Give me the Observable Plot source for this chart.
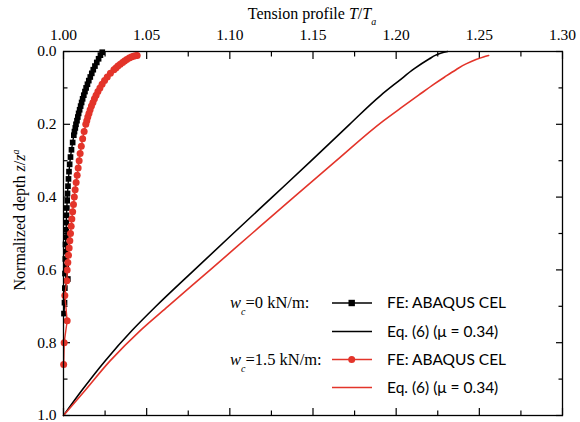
<!DOCTYPE html>
<html>
<head>
<meta charset="utf-8">
<script src="https://cdn.jsdelivr.net/npm/d3@7"></script>
<script src="https://cdn.jsdelivr.net/npm/@observablehq/plot@0.6"></script>
<style>
  body { margin: 0; background: #fff; }
</style>
</head>
<body>
<div id="chart"></div>
<script>
// Tension profile along the anchor chain, normalized by padeye tension T_a,
// against normalized depth z/z_a.

// w_c = 0 kN/m — FE (ABAQUS CEL)
const feDepth0 = [0.002, 0.01, 0.02, 0.03, 0.04, 0.05, 0.06, 0.07, 0.08, 0.09, 0.10, 0.11, 0.12,
  0.13, 0.14, 0.15, 0.16, 0.17, 0.18, 0.19, 0.20, 0.21, 0.22, 0.23, 0.25, 0.27, 0.29, 0.31, 0.33,
  0.35, 0.37, 0.39, 0.41, 0.43, 0.45, 0.47, 0.49, 0.51, 0.53, 0.55, 0.57, 0.59, 0.61, 0.625, 0.65,
  0.69, 0.72];
const feTension0 = [1.0233, 1.0222, 1.0211, 1.0200, 1.0189, 1.0179, 1.0170, 1.0161, 1.0152, 1.0144,
  1.0136, 1.0129, 1.0122, 1.0115, 1.0109, 1.0103, 1.0097, 1.0091, 1.0086, 1.0081, 1.0075, 1.0071,
  1.0066, 1.0062, 1.0055, 1.0048, 1.0042, 1.0037, 1.0033, 1.0030, 1.0027, 1.0024, 1.0022, 1.0020,
  1.0018, 1.0017, 1.0016, 1.0015, 1.0012, 1.0014, 1.0011, 1.0016, 1.0009, 1.0026, 1.0008,
  1.0006, 1.0003];

// w_c = 0 kN/m — Eq. (6), mu = 0.34
const eqDepth0 = [0, 0.004, 0.01, 0.02, 0.048, 0.08, 0.121, 0.2, 0.3, 0.4, 0.5, 0.6, 0.7, 0.766, 0.85, 0.93, 1.0];
const eqTension0 = [1.2310, 1.2272, 1.2238, 1.2200, 1.2107, 1.2018, 1.1906, 1.1720, 1.1490, 1.1255,
  1.1020, 1.0787, 1.0556, 1.0413, 1.0250, 1.0112, 1.0];

// w_c = 1.5 kN/m — FE (ABAQUS CEL)
const feDepth15 = [0.011, 0.012, 0.013, 0.015, 0.018, 0.022, 0.026, 0.03, 0.035, 0.04, 0.045, 0.05,
  0.06, 0.07, 0.08, 0.09, 0.10, 0.11, 0.12, 0.13, 0.14, 0.15, 0.16, 0.17, 0.18, 0.19, 0.20, 0.22,
  0.24, 0.26, 0.28, 0.30, 0.32, 0.34, 0.36, 0.38, 0.40, 0.42, 0.44, 0.46, 0.48, 0.50, 0.52, 0.54,
  0.56, 0.58, 0.60, 0.63, 0.67, 0.74, 0.80, 0.86];
const feTension15 = [1.0443, 1.0432, 1.0420, 1.0408, 1.0395, 1.0380, 1.0367, 1.0355, 1.0341, 1.0327,
  1.0315, 1.0303, 1.0282, 1.0263, 1.0247, 1.0232, 1.0219, 1.0207, 1.0196, 1.0186, 1.0177, 1.0168,
  1.0160, 1.0153, 1.0146, 1.0140, 1.0134, 1.0124, 1.0115, 1.0107, 1.0100, 1.0094, 1.0088, 1.0082,
  1.0076, 1.0070, 1.0065, 1.0060, 1.0055, 1.0050, 1.0046, 1.0042, 1.0038, 1.0034, 1.0030, 1.0026,
  1.0022, 1.0020, 1.0008, 1.0022, 1.0004, 1.0001];

// w_c = 1.5 kN/m — Eq. (6), mu = 0.34
const eqDepth15 = [0.011, 0.015, 0.022, 0.034, 0.05, 0.07, 0.089, 0.12, 0.153, 0.19, 0.3, 0.4, 0.5,
  0.6, 0.7, 0.766, 0.85, 0.93, 1.0];
const eqTension15 = [1.2556, 1.2525, 1.2480, 1.2420, 1.2360, 1.2292, 1.2230, 1.2135, 1.2035, 1.1925,
  1.1640, 1.1385, 1.1133, 1.0882, 1.0628, 1.0463, 1.0280, 1.0132, 1.0];

// Axis ticks
const xTicks = [1.00, 1.05, 1.10, 1.15, 1.20, 1.25, 1.30];
const xMinorTicks = [1.025, 1.075, 1.125, 1.175, 1.225, 1.275];
const yTicks = [0.0, 0.2, 0.4, 0.6, 0.8, 1.0];
const yMinorTicks = [0.1, 0.3, 0.5, 0.7, 0.9];

const RED = "#e3342a";
const SERIF = "'Liberation Serif', 'Times New Roman', serif";
const SANS = "Lato, 'Liberation Sans', sans-serif";

const rows = (depths, tensions) => depths.map((z, i) => ({z, t: tensions[i]}));
const fe0 = rows(feDepth0, feTension0);
const eq0 = rows(eqDepth0, eqTension0);
const fe15 = rows(feDepth15, feTension15);
const eq15 = rows(eqDepth15, eqTension15);

const major = 7, minor = 4.5;

const chart = Plot.plot({
  width: 580,
  height: 422,
  marginLeft: 63,
  marginRight: 18,
  marginTop: 51,
  marginBottom: 7,
  style: {fontFamily: SERIF, fontSize: "15.5px", color: "#000", background: "#fff"},
  x: {domain: [1.0, 1.3]},
  y: {domain: [0, 1], reverse: true},
  marks: [
    // labelled axes (top, left)
    Plot.axisX(xTicks, {anchor: "top", tickSize: -major, tickPadding: major + 12,
      tickFormat: d3.format(".2f"), label: null, strokeWidth: 1.2}),
    Plot.axisX(xMinorTicks, {anchor: "top", tickSize: -minor, tickFormat: () => "", label: null, strokeWidth: 1.2}),
    Plot.axisY(yTicks, {anchor: "left", tickSize: -major, tickPadding: major + 7,
      tickFormat: d3.format(".1f"), label: null, strokeWidth: 1.2}),
    Plot.axisY(yMinorTicks, {anchor: "left", tickSize: -minor, tickFormat: () => "", label: null, strokeWidth: 1.2}),
    // mirrored ticks (bottom, right)
    Plot.axisX(xTicks, {anchor: "bottom", tickSize: -major, tickFormat: () => "", label: null, strokeWidth: 1.2}),
    Plot.axisX(xMinorTicks, {anchor: "bottom", tickSize: -minor, tickFormat: () => "", label: null, strokeWidth: 1.2}),
    Plot.axisY(yTicks, {anchor: "right", tickSize: -major, tickFormat: () => "", label: null, strokeWidth: 1.2}),
    Plot.axisY(yMinorTicks, {anchor: "right", tickSize: -minor, tickFormat: () => "", label: null, strokeWidth: 1.2}),

    // Eq. (6) curves
    Plot.line(eq0, {x: "t", y: "z", stroke: "#000", strokeWidth: 1.6, curve: "monotone-y"}),
    Plot.line(eq15, {x: "t", y: "z", stroke: RED, strokeWidth: 1.6, curve: "monotone-y"}),

    // FE results
    Plot.line(fe0, {x: "t", y: "z", stroke: "#000", strokeWidth: 1.4}),
    Plot.dot(fe0, {x: "t", y: "z", symbol: "square", r: 3.2, fill: "#000", stroke: null}),
    Plot.line(fe15, {x: "t", y: "z", stroke: RED, strokeWidth: 1.4}),
    Plot.dot(fe15, {x: "t", y: "z", symbol: "circle", r: 3.5, fill: RED, stroke: null}),

    Plot.frame({stroke: "#000", strokeWidth: 1.3})
  ]
});

document.getElementById("chart").append(chart);

// Axis titles and legend
const svg = d3.select(chart);

const title = svg.append("text")
  .attr("x", 312).attr("y", 19)
  .attr("text-anchor", "middle")
  .style("font-family", SERIF).style("font-size", "16px").attr("fill", "#000");
title.append("tspan").text("Tension profile ");
title.append("tspan").style("font-style", "italic").text("T");
title.append("tspan").text("/");
title.append("tspan").style("font-style", "italic").text("T");
title.append("tspan").style("font-style", "italic").style("font-size", "10px").attr("dy", 6).text("a");

const ytitle = svg.append("text")
  .attr("transform", "translate(25,220) rotate(-90)")
  .attr("text-anchor", "middle")
  .style("font-family", SERIF).style("font-size", "16px").attr("fill", "#000");
ytitle.append("tspan").text("Normalized depth ");
ytitle.append("tspan").style("font-style", "italic").text("z");
ytitle.append("tspan").text("/");
ytitle.append("tspan").style("font-style", "italic").text("z");
ytitle.append("tspan").style("font-style", "italic").style("font-size", "10px").attr("dy", -6).text("a");

const legend = svg.append("g").attr("text-anchor", "start");
const entries = [
  {y: 303, color: "#000", symbol: "square", text: "FE: ABAQUS CEL", group: "0"},
  {y: 331.5, color: "#000", symbol: null, text: "Eq. (6) (\u03bc = 0.34)"},
  {y: 359.5, color: RED, symbol: "circle", text: "FE: ABAQUS CEL", group: "1.5"},
  {y: 387.5, color: RED, symbol: null, text: "Eq. (6) (\u03bc = 0.34)"}
];
for (const e of entries) {
  legend.append("line")
    .attr("x1", 332).attr("x2", 372).attr("y1", e.y).attr("y2", e.y)
    .attr("stroke", e.color).attr("stroke-width", 1.6);
  if (e.symbol === "square") {
    legend.append("rect").attr("x", 348.5).attr("y", e.y - 3.2).attr("width", 6.4).attr("height", 6.4).attr("fill", e.color);
  } else if (e.symbol === "circle") {
    legend.append("circle").attr("cx", 351.7).attr("cy", e.y).attr("r", 3.5).attr("fill", e.color);
  }
  legend.append("text")
    .attr("x", 387).attr("y", e.y).attr("dy", "0.35em")
    .attr("text-anchor", "start")
    .style("font-family", SANS).style("font-size", "15.5px").attr("fill", "#000")
    .text(e.text);
  if (e.group) {
    const g = legend.append("text")
      .attr("x", 230).attr("y", e.y).attr("dy", "0.32em")
      .attr("text-anchor", "start")
      .style("font-family", SERIF).style("font-size", "16.5px").attr("fill", "#000");
    g.append("tspan").style("font-style", "italic").text("w");
    g.append("tspan").style("font-style", "italic").style("font-size", "10px").attr("dy", 7).text("c");
    g.append("tspan").attr("dy", -7).text("=" + e.group + " kN/m:");
  }
}
</script>
</body>
</html>
